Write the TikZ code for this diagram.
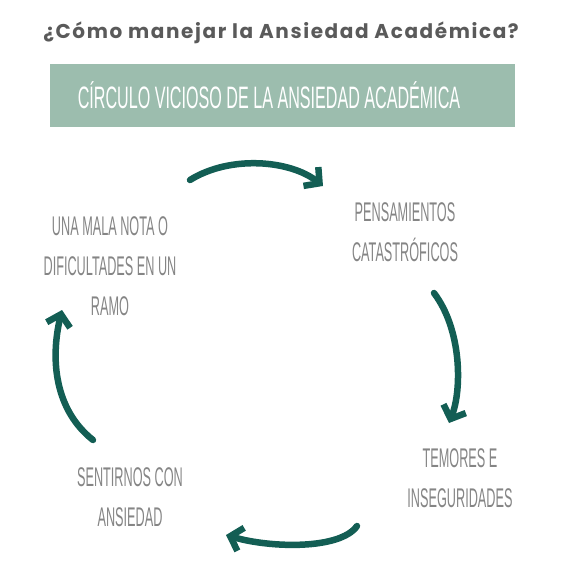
\documentclass[tikz,border=0pt]{standalone}
\usepackage{fontspec}
\usepackage{tikz}
\usetikzlibrary{arrows.meta,positioning}
\newfontfamily\titlefont[LetterSpace=8]{Poppins}
\newfontfamily\handfont[FakeStretch=0.47]{Liberation Sans}
\newfontfamily\bandfont[FakeStretch=0.52]{Liberation Sans}
\definecolor{arrowgreen}{HTML}{135E54}
\definecolor{bandgreen}{HTML}{9CBDAE}
\definecolor{textgray}{HTML}{858585}
\definecolor{titlegray}{HTML}{5A5A5A}
\tikzset{
  phase/.style={align=center,text=textgray,font=\handfont\fontsize{27}{40}\selectfont},
  loop/.style={arrowgreen,line width=6.5pt,line cap=round,
    -{Straight Barb[length=11pt,width=24pt]}}
}

\begin{document}
\begin{tikzpicture}[x=1pt,y=-1pt]
   \useasboundingbox (0,0) rectangle (572,574);
   \node (title) [text=titlegray] at (281,33) {\titlefont\bfseries\fontsize{20}{24}\selectfont ¿Cómo manejar la Ansiedad Académica?};
   \node (band) [fill=bandgreen,minimum width=465pt,minimum height=63pt] at (282.5,95.5) {};
   \node (bandtext) [text=white] at (269,95) {\bandfont\fontsize{31}{34}\selectfont CÍRCULO VICIOSO DE LA ANSIEDAD ACADÉMICA};
   \node (nota) [phase] at (110,266) {UNA MALA NOTA O\\DIFICULTADES EN UN\\RAMO};
   \node (pens) [phase] at (405,232) {PENSAMIENTOS\\CATASTRÓFICOS};
   \node (temor) [phase] at (460,478) {TEMORES E\\INSEGURIDADES};
   \node (sent) [phase] at (130,497) {SENTIRNOS CON\\ANSIEDAD};
   \coordinate (a1) at (190,180);
   \coordinate (b1) at (323,186);
   \coordinate (a2) at (434,293);
   \coordinate (b2) at (449,423);
   \coordinate (a3) at (357,526);
   \coordinate (b3) at (226,535);
   \coordinate (a4) at (93,440);
   \coordinate (b4) at (62,310);
   \draw[loop] (a1) .. controls (230,155) and (290,160) .. (b1);
   \draw[loop] (a2) .. controls (462,330) and (462,390) .. (b2);
   \draw[loop] (a3) .. controls (340,550) and (270,548) .. (b3);
   \draw[loop] (a4) .. controls (55,410) and (50,360) .. (b4);
\end{tikzpicture}
\end{document}
